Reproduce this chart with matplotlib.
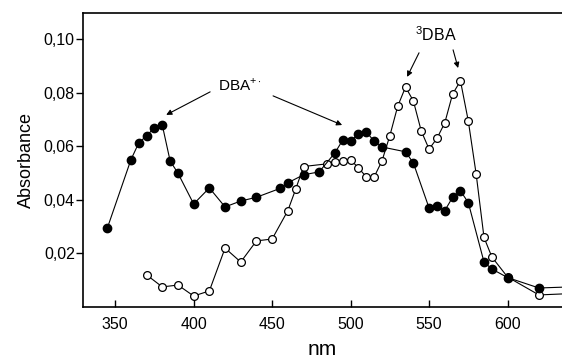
import matplotlib
matplotlib.use("Agg")
from matplotlib import pyplot as plt
from matplotlib.ticker import FuncFormatter

plt.rcParams['font.family'] = ['Liberation Sans', 'DejaVu Sans']
plt.rcParams['mathtext.fontset'] = 'custom'
plt.rcParams['mathtext.rm'] = 'Liberation Sans'

# DBA+. (filled circles)
nm_cation = [345, 360, 365, 370, 375, 380, 385, 390, 400, 410, 420, 430, 440,
             455, 460, 470, 480, 490, 495, 500, 505, 510, 515, 520, 535, 540,
             550, 555, 560, 565, 570, 575, 585, 590, 600, 620, 640]
abs_cation = [0.0295, 0.055, 0.0613, 0.064, 0.067, 0.068, 0.0546, 0.050, 0.0385,
              0.0445, 0.0374, 0.0396, 0.041, 0.0443, 0.0464, 0.0494, 0.0505,
              0.0576, 0.0624, 0.062, 0.0647, 0.0654, 0.062, 0.0598, 0.058,
              0.0538, 0.037, 0.0376, 0.036, 0.041, 0.0434, 0.039, 0.0168,
              0.0142, 0.011, 0.0071, 0.0075]

# 3DBA (open circles)
nm_triplet = [370, 380, 390, 400, 410, 420, 430, 440, 450, 460, 465, 470, 485,
              490, 495, 500, 505, 510, 515, 520, 525, 530, 535, 540, 545, 550,
              555, 560, 565, 570, 575, 580, 585, 590, 600, 620, 640]
abs_triplet = [0.012, 0.0075, 0.0082, 0.0041, 0.006, 0.022, 0.0168, 0.0247,
               0.0254, 0.036, 0.044, 0.0525, 0.0535, 0.054, 0.0546, 0.055,
               0.052, 0.0486, 0.0486, 0.0546, 0.064, 0.075, 0.0822, 0.077,
               0.0658, 0.059, 0.063, 0.0688, 0.0796, 0.0845, 0.0695, 0.0497,
               0.026, 0.0187, 0.0112, 0.0045, 0.005]

xticks = [350, 400, 450, 500, 550, 600]
yticks = [0.02, 0.04, 0.06, 0.08, 0.10]

fig = plt.figure(figsize=(5.62, 3.62), dpi=100)
ax = fig.add_axes([0.148, 0.152, 0.852, 0.813])

ax.plot(nm_triplet, abs_triplet, '-o', color='k', lw=0.8, ms=5.6,
        mfc='white', mec='k', mew=0.9)
ax.plot(nm_cation, abs_cation, '-o', color='k', lw=0.8, ms=6,
        mfc='k', mec='k')

ax.set_xlim(329.6, 634.7)
ax.set_ylim(0, 0.110)
ax.set_xticks(xticks)
ax.set_yticks(yticks)
ax.yaxis.set_major_formatter(FuncFormatter(lambda v, p: ('%.2f' % v).replace('.', ',')))
ax.tick_params(axis='x', direction='in', length=5, width=1, labelsize=11.5, pad=7)
ax.tick_params(axis='y', direction='out', length=5, width=1, labelsize=11.5, pad=1)
ax.spines['right'].set_visible(False)
for s in ['left', 'bottom', 'top']:
    ax.spines[s].set_linewidth(1.2)

ax.set_xlabel('nm', fontsize=15, labelpad=6)
ax.set_ylabel('Absorbance', fontsize=13, labelpad=6)

arrow = dict(arrowstyle='-|>', lw=0.8, color='k', mutation_scale=8, shrinkA=0, shrinkB=0)
ax.text(429.6, 0.083, r'DBA$^{+\cdot}$', fontsize=11, ha='center', va='center')
ax.annotate('', xy=(382.5, 0.0718), xytext=(410.5, 0.0804), arrowprops=arrow)
ax.annotate('', xy=(494.6, 0.068), xytext=(450.6, 0.0789), arrowprops=arrow)

ax.text(554.5, 0.1017, r'$^{3}$DBA', fontsize=11.5, ha='center', va='center')
ax.annotate('', xy=(536, 0.086), xytext=(543.6, 0.095), arrowprops=arrow)
ax.annotate('', xy=(568.5, 0.0893), xytext=(565.3, 0.0961), arrowprops=arrow)

plt.savefig('out.png', dpi=100)
